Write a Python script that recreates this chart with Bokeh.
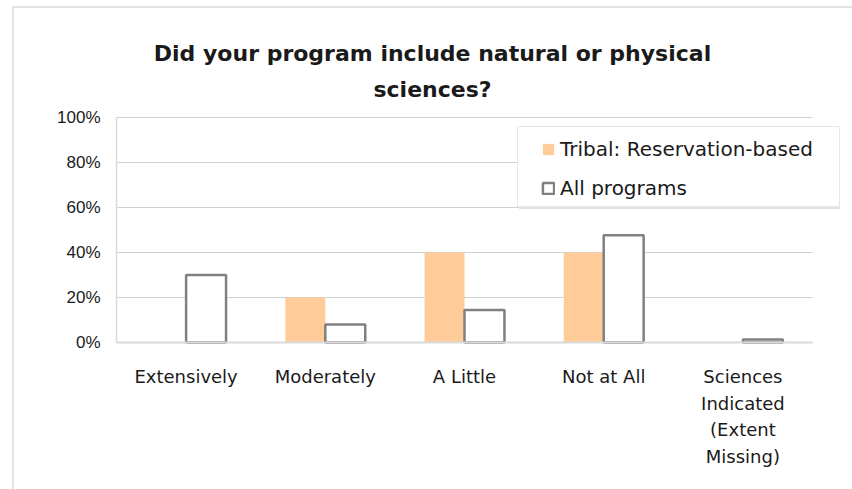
from bokeh.plotting import figure
from bokeh.models import (ColumnDataSource, Range1d, Label, Legend, LegendItem)
from bokeh.embed import file_html
from bokeh.resources import INLINE

categories = ["Extensively", "Moderately", "A Little", "Not at All",
              "Sciences\nIndicated\n(Extent\nMissing)"]
tribal = [0.0, 0.20, 0.40, 0.40, 0.0]
all_programs = [0.30, 0.08, 0.145, 0.477, 0.013]
y_ticks = [0, 0.2, 0.4, 0.6, 0.8, 1.0]
y_tick_labels = ["0%", "20%", "40%", "60%", "80%", "100%"]
title_lines = ["Did your program include natural or physical", "sciences?"]
series_names = ["Tribal: Reservation-based", "All programs"]

FONT = "DejaVu Sans"
TICKFONT = "Liberation Sans"
W, H = 852, 489
FL, FT, FR, FB = 116, 117, 812, 342   # plot-area edges in page pixels
N = len(categories)

# data ranges chosen so that the plot area sits at FL..FR / FT..FB while the
# frame covers the whole canvas (so nothing outside it is clipped)
px_x = (FR - FL) / N
px_y = (FB - FT) / 1.0
x0 = -FL / px_x
x1 = N + (W - FR) / px_x
y0 = -(H - FB) / px_y
y1 = 1 + FT / px_y

idx = [i + 0.5 for i in range(N)]
bw = 0.287
src = ColumnDataSource(dict(
    xt=[x - bw / 2 for x in idx],
    xa=[x + bw / 2 for x in idx],
    tribal=tribal, allp=all_programs))

p = figure(width=W, height=H, output_backend="svg", toolbar_location=None,
           x_range=Range1d(x0, x1), y_range=Range1d(y0, y1),
           min_border=0)
p.outline_line_color = None
p.background_fill_color = "white"
p.border_fill_color = "white"
p.axis.visible = False
p.grid.visible = False

# gridlines and axis lines
p.segment(x0=[0] * len(y_ticks), x1=[N] * len(y_ticks), y0=y_ticks, y1=y_ticks,
          line_color="#d0d0d0", line_width=1)
p.segment(x0=[0], x1=[0], y0=[0], y1=[1], line_color="#d9d9d9", line_width=1.5)

r1 = p.vbar(x="xt", top="tribal", width=bw, source=src,
            fill_color="#FFCC99", line_color=None)
r2 = p.vbar(x="xa", top="allp", width=bw, source=src,
            fill_color="white", line_color="#808080", line_width=2.5)

p.segment(x0=[0], x1=[N], y0=[0], y1=[0], line_color="#d9d9d9", line_width=2)

# y tick labels
p.text(x=[0] * len(y_ticks), y=y_ticks, text=y_tick_labels, x_offset=-16,
       text_align="right", text_baseline="middle", text_font_size="17px",
       text_font={"value": TICKFONT}, text_color="#1a1a1a")

# invisible renderer used only to draw plain boxes with Legend
dummy = p.rect(x=[], y=[], width=[], height=[], fill_alpha=0, line_alpha=0)


def box(left, top, width, height, fill, line, line_w=1):
    lg = Legend(items=[LegendItem(label=" ", renderers=[dummy])],
                location=(left, H - (top + height)),
                padding=0, margin=0, spacing=0,
                glyph_width=1, glyph_height=1, label_standoff=0,
                label_width=width - 1, label_height=height,
                label_text_font_size="1px",
                border_line_color=line, border_line_width=line_w,
                background_fill_color=fill if fill else "white",
                background_fill_alpha=1 if fill else 0)
    p.add_layout(lg, "center")


# outer chart border (top and left edges visible)
box(12, 9.5, 1200, 900, None, "#c8c8c8", 2)
# legend shadow and box
box(519, 130, 321, 79, "#e2e2e2", None)
box(517, 128, 321, 79, "white", "#cfcfcf", 1)

legend = Legend(items=[LegendItem(label=series_names[0], renderers=[r1]),
                       LegendItem(label=series_names[1], renderers=[r2])],
                location=(541, H - 200), padding=0, margin=0, spacing=15,
                glyph_width=14, glyph_height=14, label_standoff=5,
                label_text_font=FONT, label_text_font_size="20px",
                label_text_color="#1a1a1a", label_height=20,
                border_line_color=None, background_fill_alpha=0)
p.add_layout(legend, "center")

for k, t in enumerate(title_lines):
    p.add_layout(Label(x=432, y=H - (53 + 36 * k), x_units="screen", y_units="screen",
                       text=t, text_align="center", text_baseline="middle",
                       text_font=FONT, text_font_size="22px", text_font_style="bold",
                       text_color="#1a1a1a"))

for i, c in enumerate(categories):
    for k, line in enumerate(c.split("\n")):
        p.add_layout(Label(x=idx[i], y=H - (376 + 26.5 * k), y_units="screen",
                           text=line, text_align="center", text_baseline="middle",
                           text_font=FONT, text_font_size="18px",
                           text_color="#1a1a1a"))

open("out.html", "w").write(file_html(p, INLINE))
